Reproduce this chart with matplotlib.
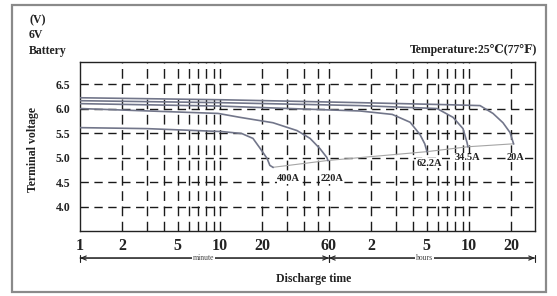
import matplotlib
matplotlib.use("Agg")
import matplotlib.pyplot as plt
from matplotlib.patches import Rectangle
import matplotlib.transforms as mtransforms

# ---------------- data (minutes, volts) ----------------
t_400 = [1, 3, 10.3, 14.3, 17.2, 19.2, 21.7, 22.7, 23.9]
v_400 = [5.61, 5.59, 5.53, 5.49, 5.39, 5.20, 4.98, 4.84, 4.80]

t_220 = [1, 9.7, 13.9, 23.9, 35.5, 44, 51.8, 58, 59]
v_220 = [6.00, 5.90, 5.82, 5.71, 5.55, 5.39, 5.18, 5.00, 4.94]

t_62 = [1, 10, 100, 170, 228, 268, 290, 301]
v_62 = [6.10, 6.05, 5.95, 5.88, 5.72, 5.47, 5.28, 5.12]

t_34 = [1, 10, 100, 355, 462, 544, 581, 590]
v_34 = [6.16, 6.12, 6.06, 6.00, 5.82, 5.59, 5.31, 5.22]

t_20 = [1, 10, 100, 400, 720, 891, 1050, 1179, 1250]
v_20 = [6.22, 6.18, 6.12, 6.08, 6.06, 5.90, 5.71, 5.51, 5.28]

curve_labels = ["400A", "220A", "62.2A", "34.5A", "20A"]

y_ticks = [4.0, 4.5, 5.0, 5.5, 6.0, 6.5]
x_ticks = [1, 2, 5, 10, 20, 60, 120, 300, 600, 1200]
x_tick_labels = ["1", "2", "5", "10", "20", "60", "2", "5", "10", "20"]
x_grid = [2, 3, 4, 5, 6, 7, 8, 9, 10, 20, 30, 40, 50, 60,
          120, 180, 240, 300, 360, 420, 480, 540, 600, 1200]

# ---------------- figure ----------------
serif = ["Liberation Serif", "DejaVu Serif"]
fig = plt.figure(figsize=(5.57, 2.96), dpi=100)
fig.patch.set_facecolor("white")

# outer frame
fig.add_artist(Rectangle((12 / 557, 1 - 292 / 296), (546 - 12) / 557, (292 - 5) / 296,
                         transform=fig.transFigure, fill=False,
                         edgecolor="#8a8a8a", linewidth=1.6))

ax = fig.add_axes([80 / 557, 1 - 231 / 296, (535 - 80) / 557, (231 - 62) / 296])
ax.set_xscale("log")
ax.set_xlim(1, 1778)
ax.set_ylim(3.5, 6.95)

# grid
for yv in y_ticks:
    ax.axhline(yv, color="#1a1a1a", lw=1.0, ls=(0, (6, 4)), zorder=1)
for xv in x_grid:
    ax.axvline(xv, color="#1a1a1a", lw=1.0, ls=(0, (7, 4)), zorder=1)

curve_color = "#72768a"
series = [(t_400, v_400), (t_220, v_220), (t_62, v_62), (t_34, v_34), (t_20, v_20)]
for t, v in series:
    ax.plot(t, v, color=curve_color, lw=1.2, zorder=3)

# end-voltage line
ax.plot([s[0][-1] for s in series], [s[1][-1] for s in series],
        color="#a5a5a5", lw=0.8, zorder=2)

# curve labels
label_pos = [(31, 4.57), (63, 4.57), (312, 4.88), (581, 5.0), (1300, 5.0)]
for lab, (lx, ly) in zip(curve_labels, label_pos):
    ax.text(lx, ly, lab, ha="center", va="center", fontsize=7.5,
            fontweight="bold", family=serif, color="#222222",
            bbox=dict(facecolor="white", edgecolor="none", pad=0.3), zorder=4)

ax.set_yticks(y_ticks)
ax.set_yticklabels([f"{v:.1f}" for v in y_ticks])
ax.set_xticks(x_ticks)
ax.set_xticklabels(x_tick_labels)
ax.minorticks_off()
ax.tick_params(axis="both", length=0)
ax.tick_params(axis="y", pad=7)
ax.tick_params(axis="x", pad=5)
for lab in ax.get_yticklabels():
    lab.set_fontfamily(serif); lab.set_fontweight("bold"); lab.set_fontsize(8.5)
    lab.set_color("#222222")
for lab in ax.get_xticklabels():
    lab.set_fontfamily(serif); lab.set_fontweight("bold"); lab.set_fontsize(11.5)
    lab.set_color("#222222")
for sp in ax.spines.values():
    sp.set_color("#222222")
    sp.set_linewidth(1.0)

# minute / hours arrows
trans = mtransforms.blended_transform_factory(ax.transData, ax.transAxes)
yarr = -0.16
for (x0, x1, txt, xc) in [(1, 60, "minute", 7.6), (60, 1778, "hours", 290)]:
    ax.annotate("", xy=(x0, yarr), xytext=(x1, yarr), xycoords=trans, textcoords=trans,
                arrowprops=dict(arrowstyle="|-|,widthA=0.25,widthB=0.25", lw=0.8,
                                color="#222222", shrinkA=0, shrinkB=0),
                annotation_clip=False)
    ax.annotate("", xy=(x0, yarr), xytext=(x1, yarr), xycoords=trans, textcoords=trans,
                arrowprops=dict(arrowstyle="<->,head_length=0.35,head_width=0.15", lw=0.8,
                                color="#222222", shrinkA=0, shrinkB=0),
                annotation_clip=False)
    ax.text(xc, yarr, txt, transform=trans, ha="center", va="center", fontsize=5.5,
            family=serif, color="#444444",
            bbox=dict(facecolor="white", edgecolor="none", pad=0.5), clip_on=False)

ax.set_xlabel("Discharge time", fontsize=8.5, fontweight="bold", family=serif,
              color="#222222", labelpad=14)
ax.xaxis.set_label_coords((314 - 80) / (535 - 80), -(273 - 231) / (231 - 62))
fig.text(33 / 557, 1 - 150 / 296, "Terminal voltage", rotation=90, ha="center",
         va="center", fontsize=8.5, fontweight="bold", family=serif, color="#222222")

for txt, yy in [("(V)", 20), ("6V", 35), ("Battery", 51)]:
    fig.text(29 / 557, 1 - yy / 296, txt, ha="left", va="center", fontsize=8.5,
             fontweight="bold", family=serif, color="#222222")
fig.text(537 / 557, 1 - 50 / 296, "Temperature:25\u2103(77\u2109)", ha="right",
         va="center", fontsize=8.5, fontweight="bold", family=serif, color="#222222")

fig.savefig("out.png", dpi=100)
